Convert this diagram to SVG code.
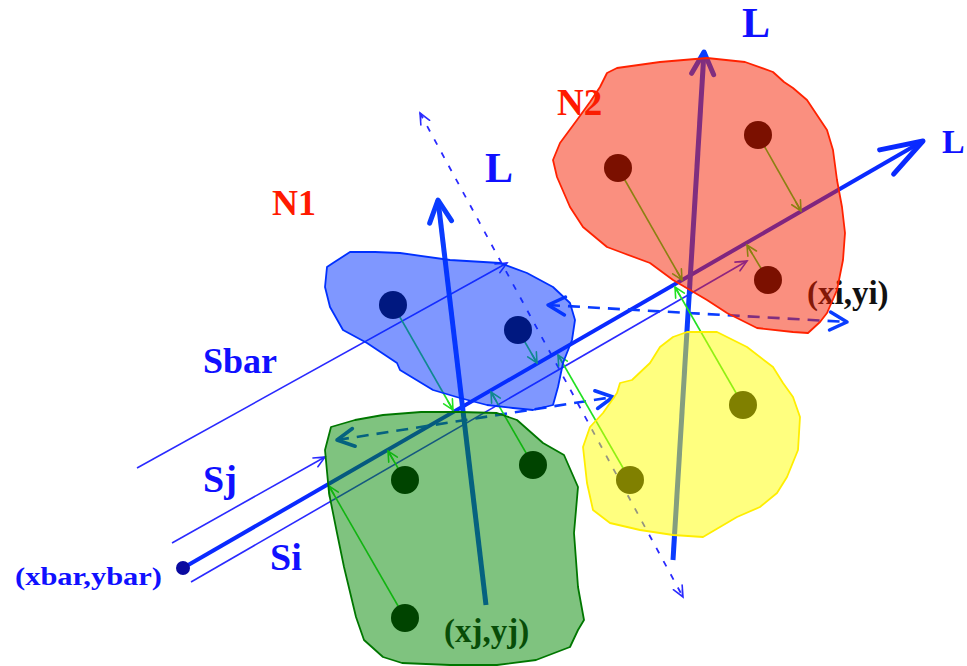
<svg xmlns="http://www.w3.org/2000/svg" width="967" height="666" viewBox="0 0 967 666">
<style>
.lbl{font-family:"Liberation Serif","Times New Roman",serif;font-weight:bold}
.blue{fill:#1010ff}
.red{fill:#ff1a00}
.dark{fill:#111}
.thick{fill:none;stroke:#0a3cff;stroke-width:5}
.axis{fill:none;stroke:#0a2aff;stroke-width:4}
.thin{fill:none;stroke:#2a2aff;stroke-width:1.6}
.dash{fill:none;stroke:#0a3cff;stroke-width:2.6;stroke-dasharray:12 8}
.dperp{fill:none;stroke:#2a2aff;stroke-width:1.8;stroke-dasharray:6 9}
.proj{fill:none;stroke:#22e022;stroke-width:1.6}
.dot{fill:#000}
.blob{stroke-width:1.8;stroke-linejoin:round;fill-opacity:0.5}
</style>
<defs>
<marker id="mL" markerUnits="userSpaceOnUse" viewBox="-30 -20 40 40" markerWidth="40" markerHeight="40" refX="0" refY="0" orient="auto" overflow="visible">
<path d="M-22,-11 L0,0 L-22,11" fill="none" stroke="#0a3cff" stroke-width="5" stroke-linecap="round" stroke-linejoin="round"/>
</marker>
<marker id="mAxis" markerUnits="userSpaceOnUse" viewBox="-50 -25 60 50" markerWidth="60" markerHeight="50" refX="0" refY="0" orient="auto" overflow="visible">
<path d="M-42,-14 L0,0 L-42,14" fill="none" stroke="#0a2aff" stroke-width="5" stroke-linecap="round" stroke-linejoin="round"/>
</marker>
<marker id="mDash" markerUnits="userSpaceOnUse" viewBox="-25 -15 30 30" markerWidth="30" markerHeight="30" refX="0" refY="0" orient="auto-start-reverse" overflow="visible">
<path d="M-17,-9 L0,0 L-17,9" fill="none" stroke="#0a3cff" stroke-width="3.5" stroke-linecap="round" stroke-linejoin="round"/>
</marker>
<marker id="mThin" markerUnits="userSpaceOnUse" viewBox="-15 -10 20 20" markerWidth="20" markerHeight="20" refX="0" refY="0" orient="auto-start-reverse" overflow="visible">
<path d="M-11,-5 L0,0 L-11,5 M-7,-3 L-1,0" fill="none" stroke="#2a2aff" stroke-width="1.6" stroke-linecap="round"/>
</marker>
<marker id="mGreen" markerUnits="userSpaceOnUse" viewBox="-15 -10 20 20" markerWidth="20" markerHeight="20" refX="0" refY="0" orient="auto" overflow="visible">
<path d="M-10,-5 L0,0 L-10,5 M-10,0 L0,0" fill="none" stroke="#22e022" stroke-width="1.6" stroke-linecap="round"/>
</marker>
</defs>
<rect width="967" height="666" fill="#fff"/>

<g id="connectors">
<line class="dperp" x1="420" y1="113" x2="683" y2="597" marker-start="url(#mThin)" marker-end="url(#mThin)"/>
<line class="axis" x1="183" y1="568" x2="923" y2="141" marker-end="url(#mAxis)"/>
<line class="thin" x1="137" y1="468" x2="507" y2="263" marker-end="url(#mThin)"/>
<line class="thin" x1="172" y1="543" x2="325" y2="457" marker-end="url(#mThin)"/>
<line class="thin" x1="191" y1="582" x2="747" y2="261" marker-end="url(#mThin)"/>
<line class="thick" x1="486" y1="605" x2="438" y2="200" marker-end="url(#mL)"/>
<line class="thick" x1="673" y1="560" x2="704" y2="52" marker-end="url(#mL)"/>
<line class="dash" x1="548" y1="305" x2="847" y2="322" marker-start="url(#mDash)" marker-end="url(#mDash)"/>
<line class="dash" x1="337" y1="440" x2="613" y2="397" marker-start="url(#mDash)" marker-end="url(#mDash)"/>
<line class="proj" x1="618" y1="168" x2="682" y2="280" marker-end="url(#mGreen)"/>
<line class="proj" x1="758" y1="135" x2="801" y2="211" marker-end="url(#mGreen)"/>
<line class="proj" x1="768" y1="280" x2="747" y2="245" marker-end="url(#mGreen)"/>
<line class="proj" x1="393" y1="305" x2="453" y2="410" marker-end="url(#mGreen)"/>
<line class="proj" x1="518" y1="330" x2="537" y2="363" marker-end="url(#mGreen)"/>
<line class="proj" x1="405" y1="480" x2="388" y2="451" marker-end="url(#mGreen)"/>
<line class="proj" x1="533" y1="465" x2="491" y2="392" marker-end="url(#mGreen)"/>
<line class="proj" x1="405" y1="618" x2="329" y2="486" marker-end="url(#mGreen)"/>
<line class="proj" x1="630" y1="480" x2="558" y2="355" marker-end="url(#mGreen)"/>
<line class="proj" x1="743" y1="405" x2="675" y2="287" marker-end="url(#mGreen)"/>
</g>

<g id="mean-point">
<circle cx="183" cy="568" r="7" fill="#0a0aa0"/>
<text class="lbl blue" x="15" y="585" font-size="26" textLength="147" lengthAdjust="spacingAndGlyphs">(xbar,ybar)</text>
</g>

<g id="labels">
<text class="lbl blue" x="742" y="37" font-size="42">L</text>
<text class="lbl blue" x="485" y="182" font-size="42">L</text>
<text class="lbl blue" x="942" y="153" font-size="34">L</text>
<text class="lbl blue" x="203" y="373" font-size="36">Sbar</text>
<text class="lbl blue" x="203" y="492" font-size="38">Sj</text>
<text class="lbl blue" x="270" y="570" font-size="38">Si</text>
</g>

<g id="N1">
<text class="lbl red" x="272" y="215" font-size="36">N1</text>
<circle class="dot" cx="393" cy="305" r="14"/>
<circle class="dot" cx="518" cy="330" r="14"/>
<path class="blob" fill="#0030ff" stroke="#0030ff" d="M350,252 L375,252 L400,253 L450,260 L500,263 L527,273 L553,287 L570,303 L575,320 L572,340 L563,363 L558,387 L553,405 L533,410 L513,408 L487,405 L460,398 L433,390 L400,370 L397,363 L367,343 L343,330 L330,307 L325,287 L327,267 L333,263 Z"/>
</g>

<g id="N2">
<text class="lbl red" x="557" y="115" font-size="37">N2</text>
<circle class="dot" cx="618" cy="168" r="14"/>
<circle class="dot" cx="758" cy="135" r="14"/>
<circle class="dot" cx="768" cy="280" r="14"/>
<text class="lbl dark" x="807" y="304" font-size="33">(xi,yi)</text>
<path class="blob" fill="#f52000" stroke="#ff2200" d="M617,68 L660,62 L707,58 L745,62 L773,72 L784,82 L793,88 L807,100 L817,115 L827,130 L833,150 L837,180 L842,207 L845,233 L843,260 L837,290 L827,313 L820,322 L808,333 L793,332 L757,328 L727,313 L707,300 L690,290 L673,280 L650,263 L623,253 L607,247 L583,227 L570,207 L557,177 L553,160 L560,143 L577,120 L590,102 L600,87 L607,73 Z"/>
</g>

<g id="green-cluster">
<circle class="dot" cx="405" cy="480" r="14"/>
<circle class="dot" cx="533" cy="465" r="14"/>
<circle class="dot" cx="405" cy="618" r="14"/>
<text class="lbl dark" x="444" y="642" font-size="33">(xj,yj)</text>
<path class="blob" fill="#008800" stroke="#007700" d="M331,427 L355,420 L383,415 L421,412 L460,412 L497,413 L517,420 L543,443 L564,455 L578,487 L574,533 L578,587 L584,620 L578,630 L570,647 L536,660 L497,665 L450,665 L402,663 L383,657 L364,640 L356,617 L344,567 L337,533 L329,493 L325,450 Z"/>
</g>

<g id="yellow-cluster">
<circle class="dot" cx="630" cy="480" r="14"/>
<circle class="dot" cx="743" cy="405" r="14"/>
<path class="blob" fill="#ffff00" stroke="#ffee00" d="M687,332 L717,332 L747,347 L773,367 L783,383 L793,397 L800,417 L798,450 L787,477 L777,493 L760,507 L737,517 L720,527 L703,537 L673,535 L640,530 L610,523 L593,510 L587,483 L583,447 L590,427 L603,413 L617,393 L620,383 L632,380 L650,363 L660,347 L673,337 Z"/>
</g>
</svg>
